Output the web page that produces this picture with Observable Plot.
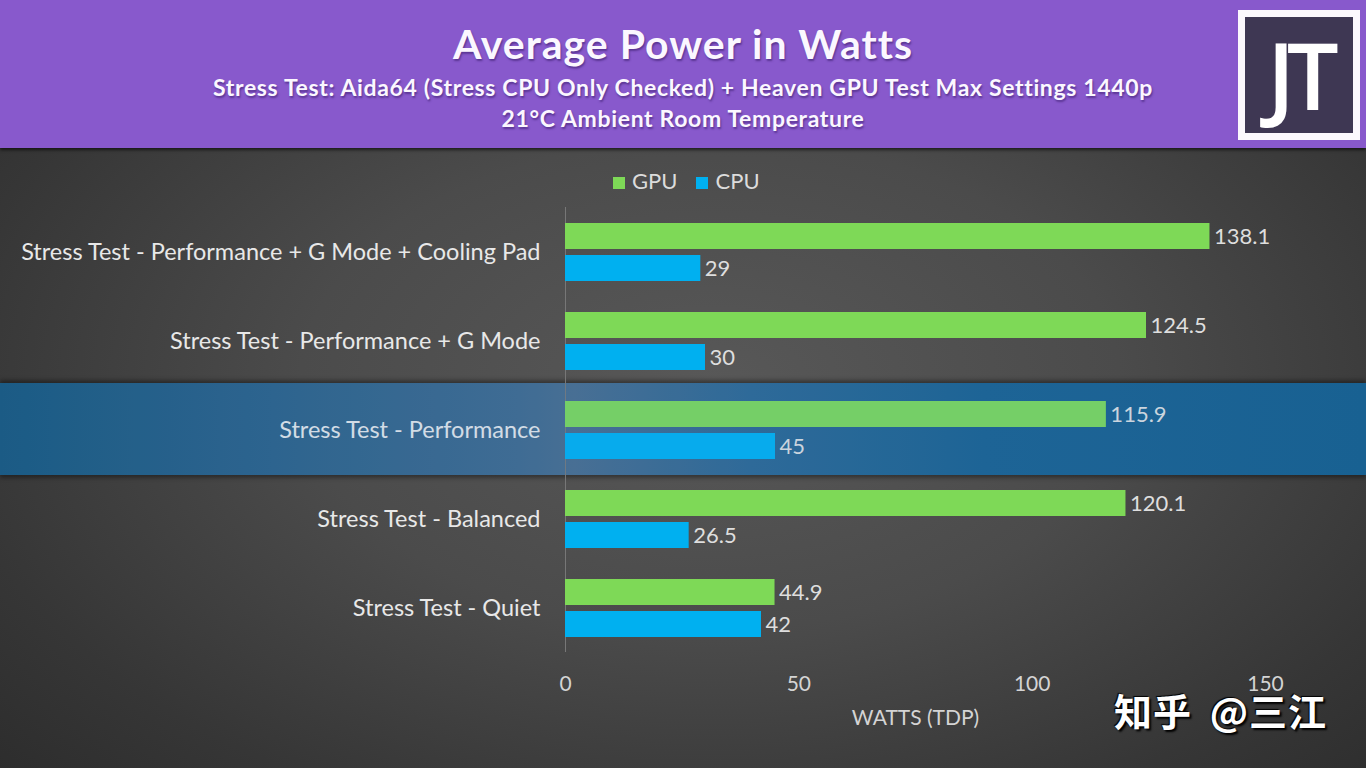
<!DOCTYPE html>
<html>
<head>
<meta charset="utf-8">
<script src="https://cdn.jsdelivr.net/npm/d3@7"></script>
<script src="https://cdn.jsdelivr.net/npm/@observablehq/plot@0.6"></script>
<style>
  html, body { margin: 0; padding: 0; background: #333; }
  #wrap { position: relative; width: 1366px; height: 768px; overflow: hidden;
    background: radial-gradient(ellipse 75% 80% at 52% 50%, #585858 0%, #4b4b4b 40%, #363636 75%, #2a2a2a 100%);
    font-family: Lato, "Open Sans", sans-serif; }
  #header { position: absolute; left: 0; top: 0; width: 1366px; height: 148px; background: #8859cc;
    box-shadow: 0 2px 3px rgba(0,0,0,0.6); z-index: 3; }
  #header .t { position: absolute; left: 0; width: 1366px; text-align: center; color: #fbf7ff; font-weight: 700;
    text-shadow: 1px 2px 2px rgba(60,30,110,0.6); white-space: nowrap; }
  #title { top: 20px; font-size: 41px; line-height: 48px; letter-spacing: 1px; }
  #sub1 { top: 73px; font-size: 23px; line-height: 28px; letter-spacing: 0.65px; }
  #sub2 { top: 104px; font-size: 23px; line-height: 28px; letter-spacing: 0.65px; }
  #logo { position: absolute; left: 1238px; top: 10px; width: 108px; height: 116px; border: 7px solid #fbf8fd;
    background: #3e3753; color: #fff; font-family: "Open Sans", sans-serif; font-weight: 600; font-size: 92px;
    line-height: 116px; text-align: center; letter-spacing: -8px; }
  #band { position: absolute; left: 0; top: 383px; width: 1366px; height: 92px; z-index: 0;
    background: linear-gradient(90deg, #175579 0%, #2c5f84 20%, #40688a 38%, #4a6b8a 42%, #2d6690 55%, #1a5f8c 72%, #145c88 100%);
    box-shadow: 0 -3px 4px rgba(0,0,0,0.35), 0 3px 4px rgba(0,0,0,0.35); }
  #bandover { position: absolute; left: 0; top: 383px; width: 1366px; height: 92px; z-index: 2;
    background: rgba(60,140,220,0.12); pointer-events: none; }
  #chart { position: absolute; left: 0; top: 148px; z-index: 1; }
  #legend { position: absolute; top: 168px; left: 613px; z-index: 2; color: #dcdcdc; font-size: 22px; line-height: 26px; white-space: nowrap; }
  #legend span.sw { display: inline-block; width: 12px; height: 12px; margin-right: 7px; vertical-align: 0px; }
  #legend span.lb { margin-right: 19px; }
  #wm { position: absolute; left: 1114px; top: 685px; z-index: 2; color: #fff; font-family: "Noto Sans CJK SC", sans-serif;
    font-size: 38px; font-weight: 700; line-height: 50px; letter-spacing: 1px; word-spacing: 8px;
    text-shadow: 2px 2px 2px #000, -1px -1px 1px #000; white-space: nowrap; }
</style>
</head>
<body>
<div id="wrap">
  <div id="header">
    <div class="t" id="title">Average Power in Watts</div>
    <div class="t" id="sub1">Stress Test: Aida64 (Stress CPU Only Checked) + Heaven GPU Test Max Settings 1440p</div>
    <div class="t" id="sub2">21°C Ambient Room Temperature</div>
    <div id="logo">JT</div>
  </div>
  <div id="band"></div>
  <div id="chart"></div>
  <div id="bandover"></div>
  <div id="legend"></div>
  <div id="wm">知乎 @三江</div>
</div>
<script>
const categories = [
  "Stress Test - Performance + G Mode + Cooling Pad",
  "Stress Test - Performance + G Mode",
  "Stress Test - Performance",
  "Stress Test - Balanced",
  "Stress Test - Quiet"
];
const series = ["GPU", "CPU"];
const gpu = [138.1, 124.5, 115.9, 120.1, 44.9];
const cpu = [29, 30, 45, 26.5, 42];
const colors = ["#7ed957", "#00b0f0"];
const xTicks = [0, 50, 100, 150];

const rows = categories.flatMap((c, i) => [
  {category: c, series: "GPU", value: gpu[i]},
  {category: c, series: "CPU", value: cpu[i]}
]);

const legend = document.getElementById("legend");
series.forEach((s, i) => {
  const sw = document.createElement("span");
  sw.className = "sw"; sw.style.background = colors[i];
  const lb = document.createElement("span");
  lb.className = "lb"; lb.textContent = s;
  legend.appendChild(sw); legend.appendChild(lb);
});

const chart = Plot.plot({
  width: 1366,
  height: 620,
  marginLeft: 565,
  marginRight: 101,
  marginTop: 58,
  marginBottom: 116,
  style: {background: "transparent", color: "#d9d9d9", fontFamily: "Lato, sans-serif", fontSize: "20px", overflow: "visible"},
  x: {domain: [0, 150]},
  y: {domain: series, paddingInner: 0.19, paddingOuter: 0.48, axis: null},
  fy: {domain: categories, padding: 0},
  color: {domain: series, range: colors},
  marks: [
    Plot.ruleX([0], {stroke: "#777777", strokeWidth: 1}),
    Plot.barX(rows, {x: "value", y: "series", fy: "category", fill: "series"}),
    Plot.text(rows, {x: "value", y: "series", fy: "category", text: d => String(d.value),
      textAnchor: "start", dx: 4, fill: "#dedede", fontSize: 22}),
    Plot.axisX({ticks: xTicks, tickSize: 0, tickPadding: 24, fontSize: 21, fill: "#d4d4d4",
      label: "WATTS (TDP)", labelAnchor: "center", labelOffset: 72, labelArrow: "none"}),
    Plot.axisFy({anchor: "left", tickSize: 0, tickPadding: 25, fontSize: 23.5, fill: "#e8e8e8", label: null})
  ]
});
document.getElementById("chart").appendChild(chart);
</script>
</body>
</html>
